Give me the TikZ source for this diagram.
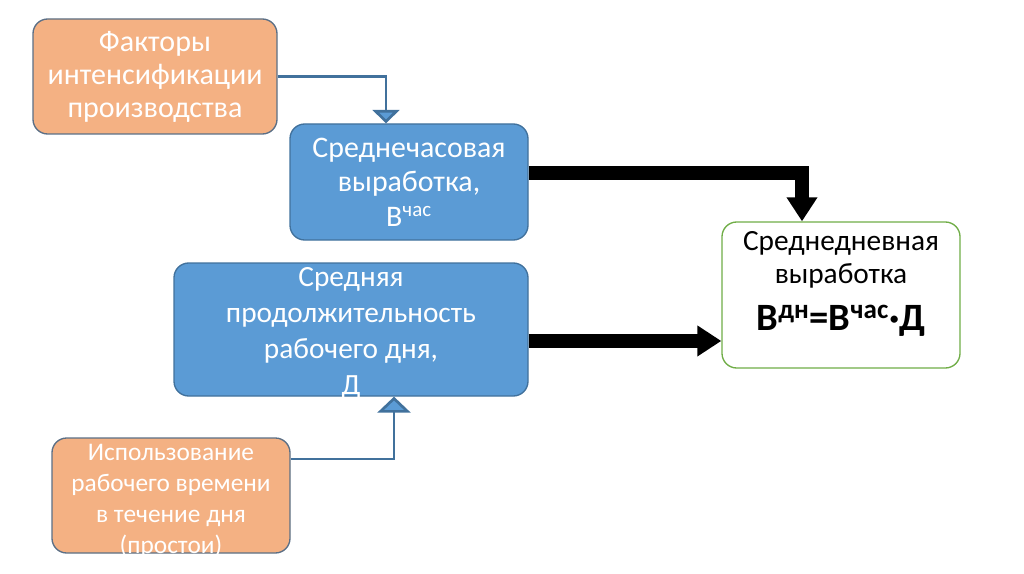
\documentclass[tikz,border=0pt]{standalone}
\usepackage{fontspec}
\setmainfont{Carlito}
\usetikzlibrary{arrows.meta}
\definecolor{bluefill}{HTML}{5B9BD5}
\definecolor{blueline}{HTML}{41719C}
\definecolor{orfill}{HTML}{F4B183}
\definecolor{orline}{HTML}{5B6F86}
\definecolor{greenline}{HTML}{70AD47}
\begin{document}
\begin{tikzpicture}[x=0.75pt,y=-0.75pt,
  box/.style={rounded corners=11pt, line width=1pt, align=center, inner sep=0pt, text=white},
  bluebox/.style={box, fill=bluefill, draw=blueline},
  orbox/.style={box, fill=orfill, draw=orline},
  resbox/.style={box, fill=white, draw=greenline, text=black},
  boxtext/.style={align=center, inner sep=0pt},
  thinarrow/.style={draw=blueline, line width=2pt, -{Triangle[width=20pt,length=10pt,fill=bluefill]}},
  thinarrowbig/.style={draw=blueline, line width=2pt, -{Triangle[width=24.75pt,length=12pt,fill=bluefill]}},
  thickarrow/.style={draw=black, line width=10.5pt, -{Triangle[width=22pt,length=18pt]}}
]
\useasboundingbox (0,0) rectangle (1024,574);
\node[orbox, minimum width=183pt, minimum height=86.25pt,
  font=\fontsize{22.5}{24.75}\selectfont] (b1) at (155,76.5)
  {Факторы\\интенсификации\\производства};
\node[bluebox, minimum width=178.5pt, minimum height=87pt,
  font=\fontsize{22.4}{26}\selectfont] (b2) at (409,182)
  {Среднечасовая\\выработка,\\В\textsuperscript{час}};
\node[bluebox, minimum width=265.5pt, minimum height=99.75pt] (b3) at (351,329.5) {};
\node[boxtext, text=white, font=\fontsize{22}{27}\selectfont] (t3) at (351,333.5)
  {Средняя\\продолжительность\\рабочего дня,\\Д};
\node[orbox, minimum width=178.5pt, minimum height=86.25pt] (b4) at (171,495.5) {};
\node[boxtext, text=white, font=\fontsize{19}{23.25}\selectfont] (t4) at (171,500.5)
  {Использование\\рабочего времени\\в течение дня\\(простои)};
\node[resbox, minimum width=178.5pt, minimum height=109.5pt] (b5) at (841,295) {};
\node[boxtext, text=black, font=\fontsize{22}{24.75}\selectfont] (t5) at (841,284)
  {Среднедневная\\выработка\\[11pt]{\fontsize{29}{30}\selectfont\bfseries В\textsuperscript{дн}=В\textsuperscript{час}·Д}};
\draw[thinarrow] (b1.east) -| ([xshift=-17.25pt]b2.north);
\draw[thinarrowbig] ([yshift=27.4pt]b4.east) -| ([xshift=32.25pt]b3.south);
\draw[thickarrow] ([yshift=6.75pt]b2.east) -| ([xshift=-29.25pt]b5.north);
\draw[thickarrow] ([yshift=-8.6pt]b3.east) -- ([yshift=-8.6pt]b3.east -| b5.west);
\end{tikzpicture}
\end{document}
